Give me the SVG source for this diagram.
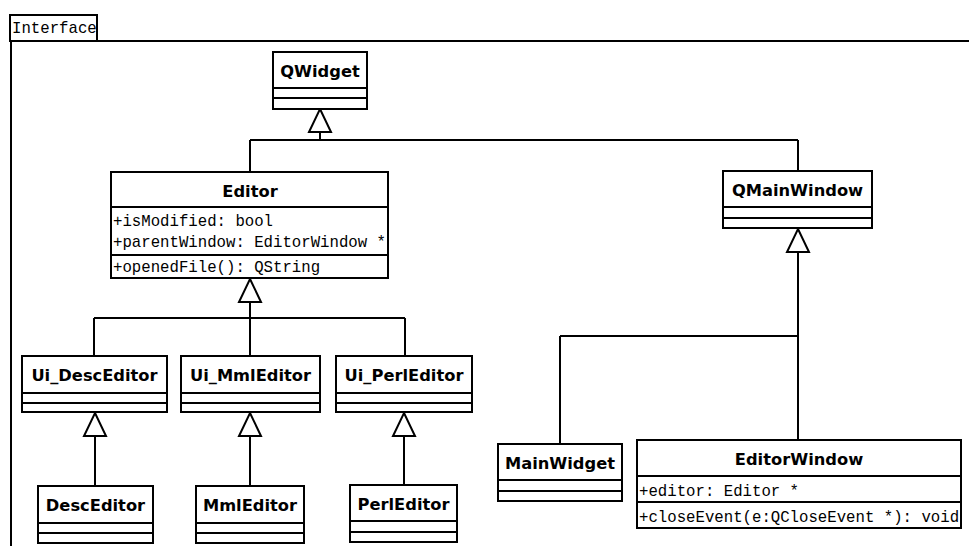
<svg xmlns="http://www.w3.org/2000/svg" width="969" height="546" viewBox="0 0 969 546">
<style>
.box{fill:#fff;stroke:#000;stroke-width:2}
.ln{fill:none;stroke:#000;stroke-width:2}
.nm{font-family:"DejaVu Sans",sans-serif;font-weight:bold;font-size:16.3px;text-anchor:middle;fill:#000}
.mo{font-family:"Liberation Mono",monospace;font-size:15.7px;fill:#000}
.tri{fill:#fff;stroke:#000;stroke-width:2}
</style>
<rect width="969" height="546" fill="#fff"/>
<g id="package">
<rect class="box" x="10" y="15" width="87" height="26"/>
<path class="ln" d="M10 41 H969 M11 41 V546"/>
<text class="mo" x="12" y="33">Interface</text>
</g>
<g id="connectors">
<path class="ln" d="M320 132 V140 M250 140 H798 M250 140 V172 M798 140 V171"/>
<path class="ln" d="M250 302 V318 M94 318 H405 M94 318 V356 M250 318 V356 M405 318 V356"/>
<path class="ln" d="M95 436 V486 M250 436 V486 M404 436 V485"/>
<path class="ln" d="M798 252 V440 M560 336 H798 M560 336 V444"/>
<path class="tri" d="M320 109 L331 132 L309 132 Z"/>
<path class="tri" d="M250 279 L261 302 L239 302 Z"/>
<path class="tri" d="M95 413 L106 436 L84 436 Z"/>
<path class="tri" d="M250 413 L261 436 L239 436 Z"/>
<path class="tri" d="M404 413 L415 436 L393 436 Z"/>
<path class="tri" d="M798 229 L809 252 L787 252 Z"/>
</g>
<g id="QWidget">
<rect class="box" x="273" y="52" width="94" height="57"/>
<path class="ln" d="M273 88 H367 M273 98 H367"/>
<text class="nm" x="320" y="77">QWidget</text>
</g>
<g id="Editor">
<rect class="box" x="111" y="172" width="277" height="106"/>
<path class="ln" d="M111 207 H388 M111 255 H388"/>
<text class="nm" x="250" y="197">Editor</text>
<text class="mo" x="113" y="226">+isModified: bool</text>
<text class="mo" x="113" y="247">+parentWindow: EditorWindow *</text>
<text class="mo" x="113" y="272">+openedFile(): QString</text>
</g>
<g id="QMainWindow">
<rect class="box" x="723" y="171" width="149" height="57"/>
<path class="ln" d="M723 207 H872 M723 218 H872"/>
<text class="nm" x="797.5" y="196">QMainWindow</text>
</g>
<g id="Ui_DescEditor">
<rect class="box" x="22" y="356" width="145" height="56"/>
<path class="ln" d="M22 393 H167 M22 403 H167"/>
<text class="nm" x="94.5" y="381">Ui_DescEditor</text>
</g>
<g id="Ui_MmlEditor">
<rect class="box" x="181" y="356" width="139" height="56"/>
<path class="ln" d="M181 393 H320 M181 403 H320"/>
<text class="nm" x="250.5" y="381">Ui_MmlEditor</text>
</g>
<g id="Ui_PerlEditor">
<rect class="box" x="336" y="356" width="136" height="56"/>
<path class="ln" d="M336 393 H472 M336 403 H472"/>
<text class="nm" x="404" y="381">Ui_PerlEditor</text>
</g>
<g id="DescEditor">
<rect class="box" x="38" y="486" width="115" height="57"/>
<path class="ln" d="M38 523 H153 M38 533 H153"/>
<text class="nm" x="95.5" y="511">DescEditor</text>
</g>
<g id="MmlEditor">
<rect class="box" x="196" y="486" width="108" height="57"/>
<path class="ln" d="M196 523 H304 M196 533 H304"/>
<text class="nm" x="250" y="511">MmlEditor</text>
</g>
<g id="PerlEditor">
<rect class="box" x="350" y="485" width="107" height="57"/>
<path class="ln" d="M350 521 H457 M350 532 H457"/>
<text class="nm" x="403.5" y="510">PerlEditor</text>
</g>
<g id="MainWidget">
<rect class="box" x="498" y="444" width="124" height="57"/>
<path class="ln" d="M498 480 H622 M498 491 H622"/>
<text class="nm" x="560" y="469">MainWidget</text>
</g>
<g id="EditorWindow">
<rect class="box" x="637" y="440" width="324" height="88"/>
<path class="ln" d="M637 476 H961 M637 502 H961"/>
<text class="nm" x="799" y="465">EditorWindow</text>
<text class="mo" x="639" y="496">+editor: Editor *</text>
<text class="mo" x="639" y="522">+closeEvent(e:QCloseEvent *): void</text>
</g>
</svg>
